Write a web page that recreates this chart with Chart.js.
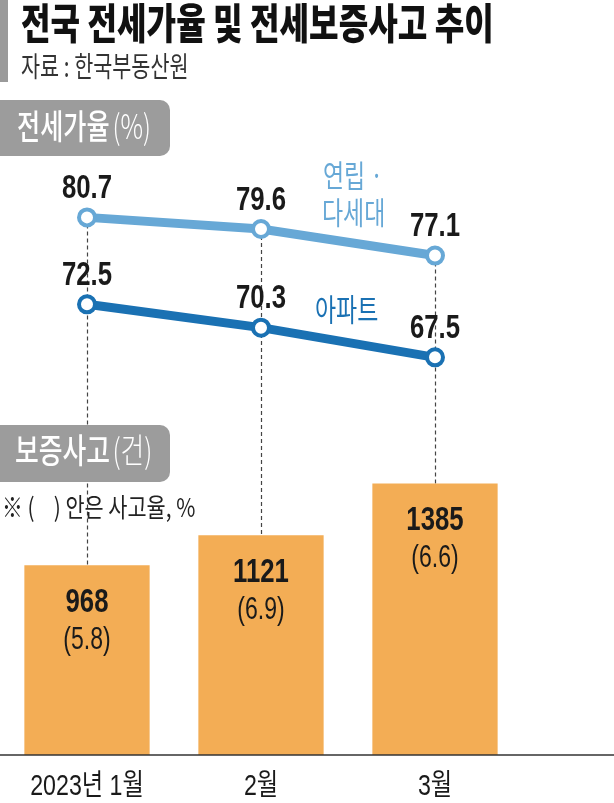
<!DOCTYPE html>
<html>
<head>
<meta charset="utf-8">
<script src="https://cdn.jsdelivr.net/npm/chart.js@4.4.0/dist/chart.umd.min.js"></script>
<style>
html, body { margin: 0; padding: 0; background: #fff; }
body { width: 614px; height: 803px; position: relative; overflow: hidden; font-family: "Noto Sans CJK KR", "Noto Sans", sans-serif; }
#wrap { position: absolute; left: 0; top: 0; width: 614px; height: 803px; }
.t { position: absolute; white-space: nowrap; transform-origin: 0 0; line-height: 1; }
.box { position: absolute; left: 0; width: 170px; height: 56px; background: #9c9c9c; border-radius: 0 10px 10px 0; }
</style>
</head>
<body>
<div id="wrap"><canvas id="chart"></canvas></div>

<div style="position:absolute;left:0;top:0;width:8px;height:82px;background:#9a9a9a"></div>
<div class="t" style="left:21px;top:0px;font-size:42px;font-weight:900;color:#111;transform:scaleX(0.765)">전국 전세가율 및 전세보증사고 추이</div>
<div class="t" style="left:21px;top:51px;font-size:28px;color:#333;transform:scaleX(0.74)">자료 : 한국부동산원</div>

<div class="box" style="top:100px"></div>
<div class="t" style="left:17px;top:108px;font-size:34px;color:#fff;font-weight:500;transform:scaleX(0.74)">전세가율<span style="font-weight:300;margin-left:4px">(%)</span></div>

<div class="box" style="top:425px;height:57px"></div>
<div class="t" style="left:15px;top:432px;font-size:34px;color:#fff;font-weight:500;transform:scaleX(0.76)">보증사고<span style="font-weight:300;margin-left:3px">(건)</span></div>
<div class="t" style="left:2px;top:493px;font-size:26px;color:#222;transform:scaleX(0.8)">※ (<span style="display:inline-block;width:24px"></span>) 안은 사고율, %</div>

<div class="t" style="left:323px;top:158px;font-size:31px;color:#67a8d6;transform:scaleX(0.74)">연립 ·</div>
<div class="t" style="left:322px;top:195px;font-size:31px;color:#67a8d6;transform:scaleX(0.74)">다세대</div>
<div class="t" style="left:315px;top:292px;font-size:31px;color:#1a71b3;transform:scaleX(0.74)">아파트</div>

<script>
// 전세가율 (%) / 보증사고 (건)
const months = ['2023년 1월', '2월', '3월'];
const villaRate = [80.7, 79.6, 77.1];   // 연립·다세대
const aptRate = [72.5, 70.3, 67.5];     // 아파트
const accidents = [968, 1121, 1385];    // 보증사고 건수
const accidentRate = [5.8, 6.9, 6.6];   // 사고율 %

const LIGHT = '#67a8d6';
const DARK = '#1a71b3';
const ORANGE = '#f3ad55';

function txt(ctx, s, x, y, font, color, sx) {
    ctx.save();
    ctx.translate(x, y);
    ctx.scale(sx, 1);
    ctx.font = font;
    ctx.fillStyle = color;
    ctx.textAlign = 'center';
    ctx.textBaseline = 'alphabetic';
    ctx.fillText(s, 0, 0);
    ctx.restore();
}

const annotate = {
    id: 'annotate',
    beforeDatasetsDraw(chart) {
        const ctx = chart.ctx;
        const x = chart.scales.x, y = chart.scales.y, y2 = chart.scales.y2;
        ctx.save();
        ctx.strokeStyle = '#444';
        ctx.lineWidth = 1.2;
        ctx.setLineDash([4, 3]);
        months.forEach((m, i) => {
            const px = Math.round(x.getPixelForValue(i)) + 0.5;
            ctx.beginPath();
            ctx.moveTo(px, y2.getPixelForValue(villaRate[i]));
            ctx.lineTo(px, y.getPixelForValue(accidents[i]));
            ctx.stroke();
        });
        ctx.restore();
    },
    afterDatasetsDraw(chart) {
        const ctx = chart.ctx;
        const x = chart.scales.x, y = chart.scales.y;
        // baseline across the whole width
        const by = y.getPixelForValue(0);
        ctx.save();
        ctx.strokeStyle = '#333';
        ctx.lineWidth = 1.5;
        ctx.beginPath();
        ctx.moveTo(0, by);
        ctx.lineTo(chart.width, by);
        ctx.stroke();
        ctx.restore();

        const bold = 'bold 33px "Liberation Sans", Arial, sans-serif';
        const reg = '32px "Liberation Sans", Arial, sans-serif';
        [[0, villaRate], [1, aptRate]].forEach(([d, vals]) => {
            chart.getDatasetMeta(d).data.forEach((pt, i) => {
                txt(ctx, vals[i].toFixed(1), pt.x, pt.y - 31 + 11.8, bold, '#1a1a1a', 0.78);
            });
        });
        chart.getDatasetMeta(2).data.forEach((bar, i) => {
            txt(ctx, String(accidents[i]), bar.x, bar.y + 35 + 11.8, bold, '#1a1a1a', 0.78);
            txt(ctx, '(' + accidentRate[i].toFixed(1) + ')', bar.x, bar.y + 75 + 8.5, reg, '#1a1a1a', 0.72);
        });
        months.forEach((m, i) => {
            txt(ctx, m, x.getPixelForValue(i), 795, '29px "Liberation Sans", "Noto Sans CJK KR", sans-serif', '#1a1a1a', 0.8);
        });
    }
};

new Chart(document.getElementById('chart'), {
    data: {
        labels: months,
        datasets: [{
            type: 'line',
            label: '연립·다세대',
            data: villaRate,
            yAxisID: 'y2',
            borderColor: LIGHT,
            borderWidth: 9,
            pointRadius: 8,
            pointBorderWidth: 4,
            pointBackgroundColor: '#fff',
            pointBorderColor: LIGHT,
            tension: 0,
            order: 0
        }, {
            type: 'line',
            label: '아파트',
            data: aptRate,
            yAxisID: 'y2',
            borderColor: DARK,
            borderWidth: 9,
            pointRadius: 8,
            pointBorderWidth: 4,
            pointBackgroundColor: '#fff',
            pointBorderColor: DARK,
            tension: 0,
            order: 1
        }, {
            type: 'bar',
            label: '보증사고',
            data: accidents,
            yAxisID: 'y',
            backgroundColor: ORANGE,
            barPercentage: 0.72,
            categoryPercentage: 1,
            order: 2
        }]
    },
    options: {
        responsive: true,
        maintainAspectRatio: false,
        animation: false,
        layout: { autoPadding: false, padding: { top: 0, left: 0, right: 92, bottom: 48 } },
        plugins: { legend: { display: false }, tooltip: { enabled: false } },
        scales: {
            x: { display: false },
            y: { display: false, min: 0, max: 3850 },
            y2: { display: false, min: 30, max: 101.2 }
        }
    },
    plugins: [annotate]
});
</script>
</body>
</html>
